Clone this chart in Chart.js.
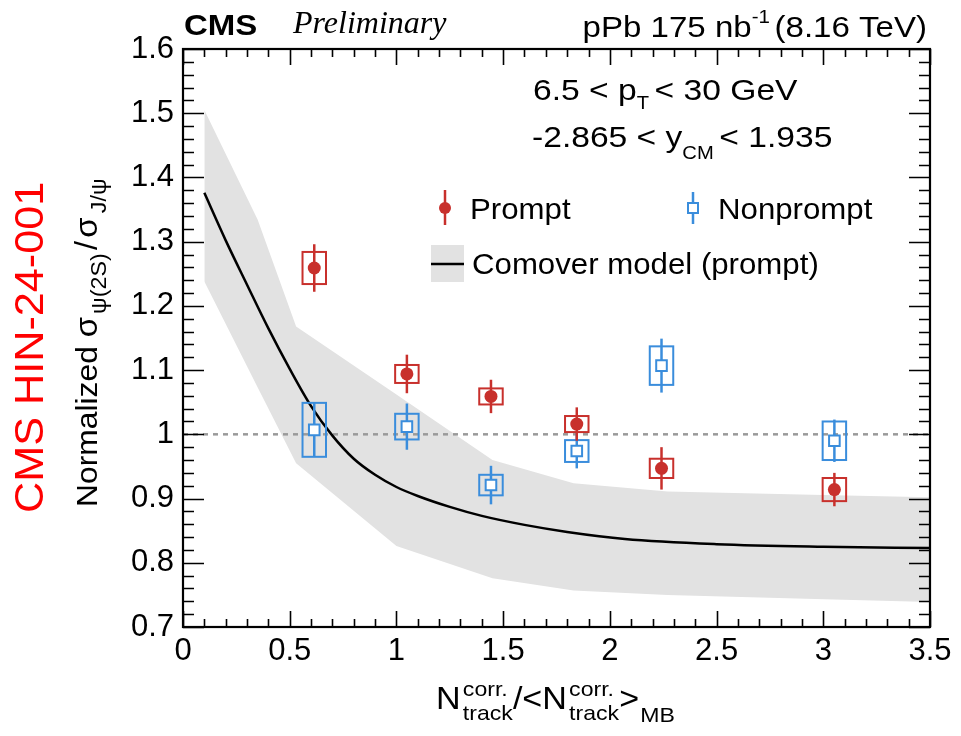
<!DOCTYPE html>
<html><head><meta charset="utf-8">
<script src="https://cdn.jsdelivr.net/npm/chart.js@4/dist/chart.umd.min.js"></script>
<style>html,body{margin:0;padding:0;background:#fff;}canvas{display:block;}</style>
</head><body>
<canvas id="c" width="961" height="736"></canvas>
<script>
// ---------- data ----------
const xTickLabels = ['0','0.5','1','1.5','2','2.5','3','3.5'];
const yTickLabels = ['0.7','0.8','0.9','1','1.1','1.2','1.3','1.4','1.5','1.6'];

const binX = [0.615, 1.049, 1.443, 1.845, 2.242, 3.052];

const promptY    = [1.259, 1.094, 1.059, 1.016, 0.947, 0.914];
const promptStat = [0.037, 0.030, 0.026, 0.026, 0.033, 0.026];
const promptSyst = [0.025, 0.014, 0.0125, 0.0125, 0.015, 0.018];

const nonpromptY    = [1.007, 1.012, 0.921, 0.974, 1.107, 0.990];
const nonpromptStat = [0.042, 0.036, 0.030, 0.027, 0.042, 0.033];
const nonpromptSyst = [0.042, 0.020, 0.016, 0.017, 0.030, 0.030];
const systHalfWidth = 0.055;

const modelX = [0.1, 0.2, 0.3, 0.4, 0.5, 0.6, 0.7, 0.8, 0.9, 1.0, 1.1, 1.25, 1.4, 1.6, 1.8, 2.07, 2.5, 3.0, 3.5];
const modelY = [1.376, 1.302, 1.233, 1.165, 1.102, 1.044, 0.998, 0.962, 0.937, 0.918, 0.904, 0.887, 0.873, 0.859, 0.848, 0.837, 0.829, 0.825, 0.823];

const bandX     = [0.1, 0.35, 0.53, 1.0, 1.45, 1.83, 2.27, 3.05, 3.5];
const bandUpper = [1.505, 1.334, 1.168, 1.062, 0.960, 0.924, 0.911, 0.905, 0.902];
const bandLower = [1.238, 1.073, 0.955, 0.826, 0.776, 0.757, 0.750, 0.743, 0.739];

const refLineX = [0, 3.5];
const refLineY = [1, 1];

// ---------- styles ----------
const RED = '#c8302c';
const BLUE = '#3a8ddc';
const GRAY = '#e2e2e2';
const SANS = '"Liberation Sans", Arial, Helvetica, sans-serif';
const SERIF = '"Liberation Serif", "Times New Roman", serif';

const pts = (xs, ys) => xs.map((x, i) => ({x, y: ys[i]}));

// ---------- rich text helper ----------
function drawRich(ctx, parts, x, y, o) {
  o = o || {};
  ctx.save();
  ctx.translate(x, y);
  if (o.rot) ctx.rotate(o.rot);
  ctx.scale(o.sx || 1, 1);
  ctx.fillStyle = o.color || '#000';
  ctx.textBaseline = 'alphabetic';
  ctx.textAlign = 'left';
  const widths = parts.map(p => {
    ctx.font = p.font;
    if (p.stack) {
      return Math.max(ctx.measureText(p.sup).width, ctx.measureText(p.sub).width) + (p.gap || 0);
    }
    return ctx.measureText(p.t).width + (p.gap || 0);
  });
  const total = widths.reduce((a, b) => a + b, 0);
  let cx = o.align === 'right' ? -total : (o.align === 'center' ? -total / 2 : 0);
  parts.forEach((p, i) => {
    ctx.font = p.font;
    if (p.stack) {
      ctx.fillText(p.sup, cx, p.supDy);
      ctx.fillText(p.sub, cx, p.subDy);
    } else {
      ctx.fillText(p.t, cx, p.dy || 0);
    }
    cx += widths[i];
  });
  ctx.restore();
}

// ---------- plugins ----------
const errorPlugin = {
  id: 'errors',
  beforeDatasetDraw(chart, args) {
    if (args.index !== 4) return;
    const {ctx, scales: {x, y}} = chart;
    ctx.save();
    const drawSeries = (ys, stat, syst, col) => {
      ctx.strokeStyle = col;
      binX.forEach((bx, i) => {
        const px = x.getPixelForValue(bx);
        const x0 = x.getPixelForValue(bx - systHalfWidth);
        const x1 = x.getPixelForValue(bx + systHalfWidth);
        const yTop = y.getPixelForValue(ys[i] + syst[i]);
        const yBot = y.getPixelForValue(ys[i] - syst[i]);
        ctx.lineWidth = 2;
        ctx.strokeRect(x0, yTop, x1 - x0, yBot - yTop);
        ctx.lineWidth = 2.5;
        ctx.beginPath();
        ctx.moveTo(px, y.getPixelForValue(ys[i] + stat[i]));
        ctx.lineTo(px, y.getPixelForValue(ys[i] - stat[i]));
        ctx.stroke();
      });
    };
    drawSeries(nonpromptY, nonpromptStat, nonpromptSyst, BLUE);
    drawSeries(promptY, promptStat, promptSyst, RED);
    ctx.restore();
  }
};

const framePlugin = {
  id: 'rootFrame',
  afterDatasetsDraw(chart) {
    const {ctx, chartArea: a, scales: {x, y}} = chart;
    ctx.save();
    ctx.strokeStyle = '#000';
    ctx.lineWidth = 1.6;
    ctx.beginPath();
    for (let i = 0; i <= 35; i++) {
      const px = Math.round(x.getPixelForValue(i * 0.1)) + 0.5;
      const len = (i % 5 === 0) ? 16 : 8;
      ctx.moveTo(px, a.bottom); ctx.lineTo(px, a.bottom - len);
      ctx.moveTo(px, a.top); ctx.lineTo(px, a.top + len);
    }
    for (let i = 0; i <= 45; i++) {
      const py = Math.round(y.getPixelForValue(0.7 + i * 0.02)) + 0.5;
      const len = (i % 5 === 0) ? 21 : 11;
      ctx.moveTo(a.left, py); ctx.lineTo(a.left + len, py);
      ctx.moveTo(a.right, py); ctx.lineTo(a.right - len, py);
    }
    ctx.stroke();
    ctx.lineWidth = 2.2;
    ctx.strokeRect(a.left, a.top, a.right - a.left, a.bottom - a.top);
    ctx.restore();
  },
  afterDraw(chart) {
    const ctx = chart.ctx;
    ctx.save();
    // header
    drawRich(ctx, [{t: 'CMS', font: 'bold 30px ' + SANS}], 184, 35, {sx: 1.1});
    drawRich(ctx, [{t: 'Preliminary', font: 'italic 32px ' + SERIF}], 293, 33);
    drawRich(ctx, [
      {t: 'pPb 175 nb', font: '29px ' + SANS},
      {t: '-1', font: '18px ' + SANS, dy: -14, gap: 4},
      {t: '(8.16 TeV)', font: '29px ' + SANS}
    ], 927, 37, {align: 'right', sx: 1.14});
    // kinematic text
    drawRich(ctx, [
      {t: '6.5 < p', font: '30px ' + SANS},
      {t: 'T', font: '18px ' + SANS, dy: 9, gap: 5},
      {t: '< 30 GeV', font: '30px ' + SANS}
    ], 533, 100, {sx: 1.12});
    drawRich(ctx, [
      {t: '-2.865 < y', font: '30px ' + SANS},
      {t: 'CM', font: '18px ' + SANS, dy: 12, gap: 5},
      {t: '< 1.935', font: '30px ' + SANS}
    ], 532, 147, {sx: 1.12});
    // legend
    ctx.strokeStyle = RED; ctx.lineWidth = 2.5;
    ctx.beginPath(); ctx.moveTo(445, 190); ctx.lineTo(445, 225); ctx.stroke();
    ctx.fillStyle = RED; ctx.beginPath(); ctx.arc(445, 208, 6, 0, Math.PI * 2); ctx.fill();
    ctx.strokeStyle = BLUE; ctx.lineWidth = 2.5;
    ctx.beginPath(); ctx.moveTo(693, 192); ctx.lineTo(693, 224); ctx.stroke();
    ctx.fillStyle = '#fff'; ctx.fillRect(688, 203, 10, 10);
    ctx.lineWidth = 2; ctx.strokeRect(688, 203, 10, 10);
    ctx.fillStyle = GRAY; ctx.fillRect(431, 245, 33, 37);
    ctx.strokeStyle = '#000'; ctx.lineWidth = 2.5;
    ctx.beginPath(); ctx.moveTo(431, 264); ctx.lineTo(464, 264); ctx.stroke();
    drawRich(ctx, [{t: 'Prompt', font: '30px ' + SANS}], 470, 219, {sx: 1.04});
    drawRich(ctx, [{t: 'Nonprompt', font: '30px ' + SANS}], 718, 219, {sx: 1.04});
    drawRich(ctx, [{t: 'Comover model (prompt)', font: '30px ' + SANS}], 472, 274, {sx: 1.04});
    // x title
    drawRich(ctx, [
      {t: 'N', font: '31px ' + SANS, gap: 2},
      {stack: true, sup: 'corr.', sub: 'track', supDy: -13, subDy: 11, font: '21px ' + SANS},
      {t: '/<N', font: '31px ' + SANS, gap: 2},
      {stack: true, sup: 'corr.', sub: 'track', supDy: -13, subDy: 11, font: '21px ' + SANS},
      {t: '>', font: '31px ' + SANS, gap: 1},
      {t: 'MB', font: '21px ' + SANS, dy: 13}
    ], 436, 709, {sx: 1.1});
    // y title (rotated)
    drawRich(ctx, [
      {t: 'Normalized ', font: '30px ' + SANS},
      {t: 'σ', font: '31px ' + SANS, gap: 3},
      {t: 'ψ(2S)', font: '22px ' + SANS, dy: 9, gap: 3},
      {t: '/', font: '31px ' + SANS, gap: 3},
      {t: 'σ', font: '31px ' + SANS, gap: 4},
      {t: 'J/ψ', font: '22px ' + SANS, dy: 9}
    ], 97, 507, {rot: -Math.PI / 2, sx: 1.06});
    // red side label
    drawRich(ctx, [{t: 'CMS HIN-24-001', font: '40px ' + SANS}], 43, 513, {rot: -Math.PI / 2, sx: 1.08, color: '#ff0000'});
    ctx.restore();
  }
};

// ---------- chart ----------
new Chart(document.getElementById('c'), {
  type: 'line',
  data: {
    datasets: [
      {label: 'band upper', data: pts(bandX, bandUpper), borderWidth: 0, pointRadius: 0,
       backgroundColor: GRAY, fill: '+1', order: 6, tension: 0},
      {label: 'band lower', data: pts(bandX, bandLower), borderWidth: 0, pointRadius: 0,
       fill: false, order: 6, tension: 0},
      {label: 'ref', data: pts(refLineX, refLineY), borderColor: '#9a9a9a', borderWidth: 2.5,
       borderDash: [5, 5], pointRadius: 0, fill: false, order: 4},
      {label: 'Comover model (prompt)', data: pts(modelX, modelY), borderColor: '#000', borderWidth: 2.5,
       pointRadius: 0, fill: false, cubicInterpolationMode: 'monotone', order: 3},
      {label: 'Nonprompt', data: pts(binX, nonpromptY), showLine: false, pointStyle: 'rect',
       pointRadius: 7.5, pointBorderWidth: 2, pointBorderColor: BLUE, pointBackgroundColor: '#fff', order: 2},
      {label: 'Prompt', data: pts(binX, promptY), showLine: false, pointStyle: 'circle',
       pointRadius: 6.5, pointBorderWidth: 0, pointBackgroundColor: RED, order: 1}
    ]
  },
  options: {
    responsive: false,
    animation: false,
    devicePixelRatio: 1,
    layout: {padding: {left: 0, top: 49, right: 31, bottom: 0}},
    plugins: {legend: {display: false}, tooltip: {enabled: false}},
    scales: {
      x: {
        type: 'linear', min: 0, max: 3.5,
        afterFit: s => { s.height = 109; },
        grid: {display: false, drawTicks: false},
        border: {display: false},
        ticks: {
          stepSize: 0.5, padding: 6, color: '#000', maxRotation: 0, autoSkip: false,
          font: {family: SANS, size: 31},
          callback: v => xTickLabels[Math.round(v / 0.5)]
        }
      },
      y: {
        type: 'linear', min: 0.7, max: 1.6,
        afterFit: s => { s.width = 183; },
        grid: {display: false, drawTicks: false},
        border: {display: false},
        ticks: {
          stepSize: 0.1, padding: 9, color: '#000', autoSkip: false,
          font: {family: SANS, size: 31},
          callback: v => yTickLabels[Math.round((v - 0.7) / 0.1)]
        }
      }
    }
  },
  plugins: [errorPlugin, framePlugin]
});
</script>
</body></html>
